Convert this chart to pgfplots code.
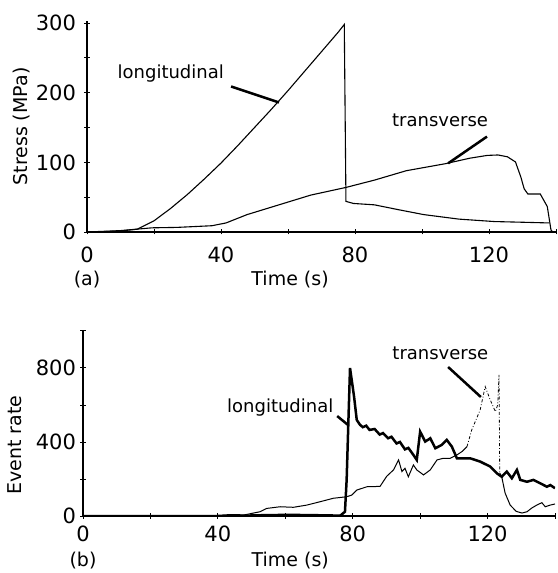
\documentclass[border=0pt]{standalone}
\usepackage{fontspec}
\setmainfont{DejaVu Sans}
\usepackage{pgfplots}
\pgfplotsset{compat=1.18}
\begin{document}
\begin{tikzpicture}
\useasboundingbox (0pt,0pt) rectangle (557pt,573pt);
\pgfplotsset{
  panel/.style={
    scale only axis, anchor=south west, clip mode=individual,
    axis lines=left, axis line style={-, line width=1.1pt},
    xmin=0, xmax=140, xtick={0,20,...,140}, xticklabels={0,,40,,80,,120,,},
    tick align=center, major tick length=5pt,
    tick style={line width=0.9pt, black},
    tick label style={font=\fontsize{21}{23}\selectfont},
    label style={font=\fontsize{19}{21}\selectfont},
    every axis plot/.append style={black},
  },
}
% (a) stress
\begin{axis}[panel, at={(87pt,341pt)}, width=469pt, height=211pt,
  ymin=0, ymax=303, ytick={0,50,...,300}, yticklabels={0,,100,,200,,300},
  xticklabel style={yshift=-9pt}, yticklabel style={xshift=-5pt},
  xlabel={Time (s)}, xlabel style={at={(axis description cs:0.433,-0.223)}, anchor=center},
  ylabel={Stress (MPa)}, ylabel style={at={(axis description cs:-0.139,0.5)}, anchor=center}]
\addplot[line width=1.1pt] coordinates {(0,0) (5,0.5) (10,1.5) (15,4) (20,16) (25,34) (30,54) (35,76) (40,99) (45,124) (50,150) (55,176) (60,203) (65,231) (70,259) (75,287) (76.8,298) (77.3,44) (79.5,41) (85.8,39) (93,32) (100.5,25) (111,18.5) (121.6,15) (130,14) (138,13)};
\addplot[line width=1.1pt] coordinates {(0,0) (10,2) (19.4,6) (26.8,6.6) (37.3,9) (41.5,13) (47.8,25) (57.3,39) (66.8,53) (77.3,64) (85.8,74.5) (95.3,88) (106.9,98) (114.3,106) (119.5,110) (122.7,110.6) (125.5,108) (127.9,100.6) (129.5,79) (130.5,62) (131.6,54.6) (135.3,54.6) (137.4,36.5) (138.5,3) (139,0)};
\node[font=\fontsize{18}{20}\selectfont] at (axis cs:25,228) {longitudinal};
\draw[line width=2.5pt] (axis cs:43,209) -- (axis cs:57.3,186);
\node[font=\fontsize{18}{20}\selectfont] at (axis cs:105.4,161) {transverse};
\draw[line width=2.5pt] (axis cs:119.4,137) -- (axis cs:107.8,98.6);
\node[font=\fontsize{19}{21}\selectfont] at (axis description cs:0,-0.223) {(a)};
\end{axis}
% (b) event rate
\begin{axis}[panel, at={(83pt,57pt)}, width=472pt, height=186pt,
  ymin=0, ymax=1005, ytick={0,200,...,1000}, yticklabels={0,,400,,800,},
  xticklabel style={yshift=-4pt}, yticklabel style={xshift=-1pt},
  xlabel={Time (s)}, xlabel style={at={(axis description cs:0.439,-0.242)}, anchor=center},
  ylabel={Event rate}, ylabel style={at={(axis description cs:-0.144,0.38)}, anchor=center}]
\addplot[line width=1pt] coordinates {(0,0) (34.7,0) (47.6,5) (52.5,23) (54.5,41) (58.5,50) (62.4,47) (66.4,59) (70.3,77) (74.3,96) (78.2,104) (79.7,113) (81.2,140) (84.2,158) (88.1,160) (90.1,215) (92.1,249) (93.6,303) (94.6,240) (95.5,258) (96.5,212) (98,276) (99,249) (101,222) (103,249) (105,303) (106.9,312) (108.9,312) (110.9,330) (112.4,348) (113.9,375)};
\addplot[line width=0.8pt, dash dot] coordinates {(113.9,375) (115.3,465) (117.8,573) (119.3,699) (120.8,627) (122.3,564) (123.0,600) (123.4,762) (123.6,232)};
\addplot[line width=1pt] coordinates {(123.6,232) (124.2,212) (125.2,124) (126.7,59) (128.5,25) (130.2,16) (131.7,23) (133.1,43) (134.6,59) (136.1,72) (137.1,50) (138.6,59) (140,65)};
\addplot[line width=2.5pt] coordinates {(0,0) (40,0) (44,4) (48,2) (55,5) (62,6) (70,4) (76.3,2) (77.7,23) (78.2,195) (78.7,500) (79.2,800) (80.4,645) (81.2,519) (82.2,492) (83,480) (84,488) (85,465) (86.5,470) (88,440) (89,448) (90.5,420) (91.5,428) (93,392) (94,400) (95.5,360) (96.5,368) (98,330) (99,303) (100,456) (101.5,402) (103,420) (104.5,366) (106.4,384) (107.9,411) (109.4,375) (110.9,312) (114.8,312) (117.8,294) (120.8,267) (122.8,230) (124.2,212) (125.7,240) (127.2,204) (128.7,249) (129.7,195) (131.7,185) (133.6,195) (135.6,177) (137.6,158) (138.6,167) (140,150)};
\node[font=\fontsize{18}{20}\selectfont] at (axis cs:58.5,584) {longitudinal};
\draw[line width=2.5pt] (axis cs:75.4,540) -- (axis cs:78.6,492);
\node[font=\fontsize{18}{20}\selectfont] at (axis cs:106,881) {transverse};
\draw[line width=2.5pt] (axis cs:108.3,805) -- (axis cs:118,643);
\node[font=\fontsize{19}{21}\selectfont] at (axis description cs:0,-0.242) {(b)};
\end{axis}
\end{tikzpicture}
\end{document}
